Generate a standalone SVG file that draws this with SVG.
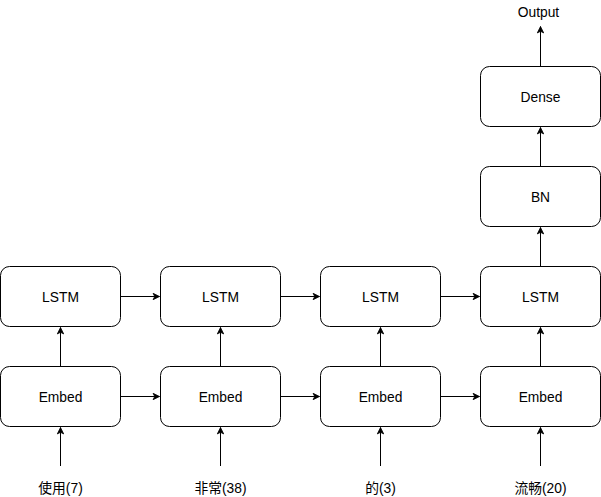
<svg xmlns="http://www.w3.org/2000/svg" width="601" height="497" viewBox="0 0 601 497">
  <style>
    .box { fill: #ffffff; stroke: #000000; stroke-width: 1; }
    .lbl { font-family: "Liberation Sans", "Noto Sans CJK SC", Arial, sans-serif; font-size: 13.8px; fill: #000000; text-anchor: middle; dominant-baseline: central; }
    .edge { fill: none; stroke: #000000; stroke-width: 1; marker-end: url(#arrow); }
  </style>
  <defs>
    <marker id="arrow" viewBox="0 0 10 10" refX="9" refY="5" markerWidth="8" markerHeight="8" markerUnits="userSpaceOnUse" orient="auto">
      <path d="M1,1 L9,5 L1,9 L3,5 Z" fill="#000000" stroke="#000000" stroke-width="1"/>
    </marker>
  </defs>
  <rect width="601" height="497" fill="#ffffff"/>

  <g id="connectors">
    <!-- token inputs into embeddings -->
    <path class="edge" d="M60.5,466 V427.5"/>
    <path class="edge" d="M220.5,466 V427.5"/>
    <path class="edge" d="M380.5,466 V427.5"/>
    <path class="edge" d="M540.5,466 V427.5"/>
    <!-- embed to lstm -->
    <path class="edge" d="M60.5,366.5 V327.5"/>
    <path class="edge" d="M220.5,366.5 V327.5"/>
    <path class="edge" d="M380.5,366.5 V327.5"/>
    <path class="edge" d="M540.5,366.5 V327.5"/>
    <!-- horizontal chains -->
    <path class="edge" d="M120.5,396.5 H159.5"/>
    <path class="edge" d="M280.5,396.5 H319.5"/>
    <path class="edge" d="M440.5,396.5 H479.5"/>
    <path class="edge" d="M120.5,296.5 H159.5"/>
    <path class="edge" d="M280.5,296.5 H319.5"/>
    <path class="edge" d="M440.5,296.5 H479.5"/>
    <!-- head -->
    <path class="edge" d="M540.5,266.5 V227.5"/>
    <path class="edge" d="M540.5,166.5 V127.5"/>
    <path class="edge" d="M540.5,66.5 V26.5"/>
  </g>

  <g id="embed1"><rect class="box" x="0.5" y="366.5" width="120" height="60" rx="9"/><text class="lbl" x="60.5" y="397.5">Embed</text></g>
  <g id="embed2"><rect class="box" x="160.5" y="366.5" width="120" height="60" rx="9"/><text class="lbl" x="220.5" y="397.5">Embed</text></g>
  <g id="embed3"><rect class="box" x="320.5" y="366.5" width="120" height="60" rx="9"/><text class="lbl" x="380.5" y="397.5">Embed</text></g>
  <g id="embed4"><rect class="box" x="480.5" y="366.5" width="120" height="60" rx="9"/><text class="lbl" x="540.5" y="397.5">Embed</text></g>

  <g id="lstm1"><rect class="box" x="0.5" y="266.5" width="120" height="60" rx="9"/><text class="lbl" x="60.5" y="297.5">LSTM</text></g>
  <g id="lstm2"><rect class="box" x="160.5" y="266.5" width="120" height="60" rx="9"/><text class="lbl" x="220.5" y="297.5">LSTM</text></g>
  <g id="lstm3"><rect class="box" x="320.5" y="266.5" width="120" height="60" rx="9"/><text class="lbl" x="380.5" y="297.5">LSTM</text></g>
  <g id="lstm4"><rect class="box" x="480.5" y="266.5" width="120" height="60" rx="9"/><text class="lbl" x="540.5" y="297.5">LSTM</text></g>

  <g id="bn"><rect class="box" x="480.5" y="166.5" width="120" height="60" rx="9"/><text class="lbl" x="540.5" y="197.5">BN</text></g>
  <g id="dense"><rect class="box" x="480.5" y="66.5" width="120" height="60" rx="9"/><text class="lbl" x="540.5" y="97.5">Dense</text></g>

  <g id="output"><text class="lbl" x="538.5" y="12">Output</text></g>

  <g id="tokens">
    <text class="lbl" x="60.5" y="488">使用(7)</text>
    <text class="lbl" x="220.5" y="488">非常(38)</text>
    <text class="lbl" x="380.5" y="488">的(3)</text>
    <text class="lbl" x="540.5" y="488">流畅(20)</text>
  </g>
</svg>
